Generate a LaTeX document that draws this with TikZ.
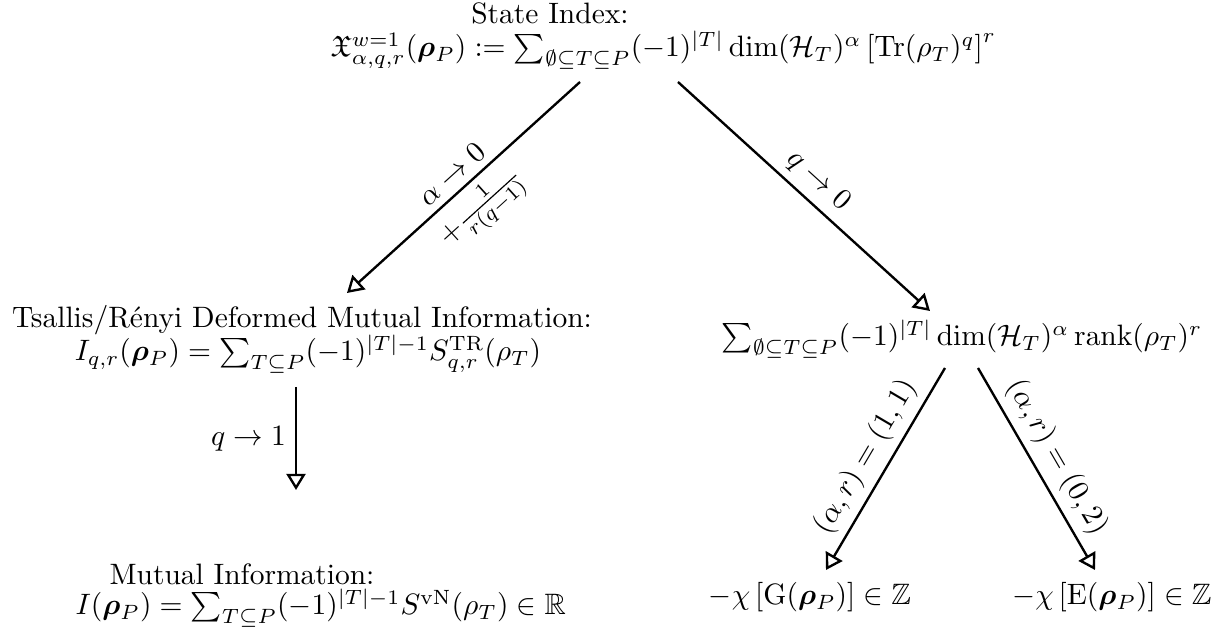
\documentclass[tikz,border=0pt]{standalone}
\usepackage{amsmath,amssymb,bm}
\usetikzlibrary{arrows.meta}
\begin{document}
\begin{tikzpicture}[x=0.339pt,y=-0.339pt,
  txt/.style={inner sep=0pt, anchor=base},
  arr/.style={thick,-{Triangle[open,length=5.5pt,width=6.5pt]}},
  lbl/.style={inner sep=2.5pt, sloped}]
\useasboundingbox (0,0) rectangle (1222,630);
% top
\node[txt] (topT) at (550,24) {State Index:};
\node[txt,anchor=base west] (top) at (330,57) {$\mathfrak{X}^{w=1}_{\alpha,q,r}(\bm{\rho}_P) := \sum_{\emptyset\subseteq T\subseteq P}(-1)^{|T|}\dim(\mathcal{H}_T)^\alpha\left[\operatorname{Tr}(\rho_T)^q\right]^r$};
% middle left
\node[txt] (tsT) at (302,328) {Tsallis/R\'enyi Deformed Mutual Information:};
\node[txt] (ts) at (308,361) {$I_{q,r}(\bm{\rho}_P) = \sum_{T\subseteq P}(-1)^{|T|-1}S^{\mathrm{TR}}_{q,r}(\rho_T)$};
% middle right
\node[txt] (rk) at (962,346) {$\sum_{\emptyset\subseteq T\subseteq P}(-1)^{|T|}\dim(\mathcal{H}_T)^\alpha\operatorname{rank}(\rho_T)^r$};
% bottom left
\node[txt] (miT) at (242,585) {Mutual Information:};
\node[txt,anchor=base west] (mi) at (75,615) {$I(\bm{\rho}_P) = \sum_{T\subseteq P}(-1)^{|T|-1}S^{\mathrm{vN}}(\rho_T)\in\mathbb{R}$};
% bottom right
\node[txt] (g) at (810,605) {$-\chi\left[\mathrm{G}(\bm{\rho}_P)\right]\in\mathbb{Z}$};
\node[txt] (e) at (1112,605) {$-\chi\left[\mathrm{E}(\bm{\rho}_P)\right]\in\mathbb{Z}$};
% connector ends
\coordinate (a1s) at (580,82);  \coordinate (a1e) at (347,293);
\coordinate (a2s) at (678,82);  \coordinate (a2e) at (930,311);
\coordinate (a3s) at (296,387); \coordinate (a3e) at (296,490);
\coordinate (a4s) at (945,368); \coordinate (a4e) at (826,570);
\coordinate (a5s) at (978,368); \coordinate (a5e) at (1095,570);
\draw[arr] (a1s) -- node[lbl,above]{$\alpha\to0$} node[lbl,below]{$+\frac{1}{r(q-1)}$} (a1e);
\draw[arr] (a2s) -- node[lbl,above]{$q\to0$} (a2e);
\draw[arr] (a3s) -- node[left,inner sep=3pt]{$q\to1$} (a3e);
\draw[arr] (a4s) -- node[lbl,above]{$(\alpha,r)=(1,1)$} (a4e);
\draw[arr] (a5s) -- node[lbl,above]{$(\alpha,r)=(0,2)$} (a5e);
\end{tikzpicture}
\end{document}
